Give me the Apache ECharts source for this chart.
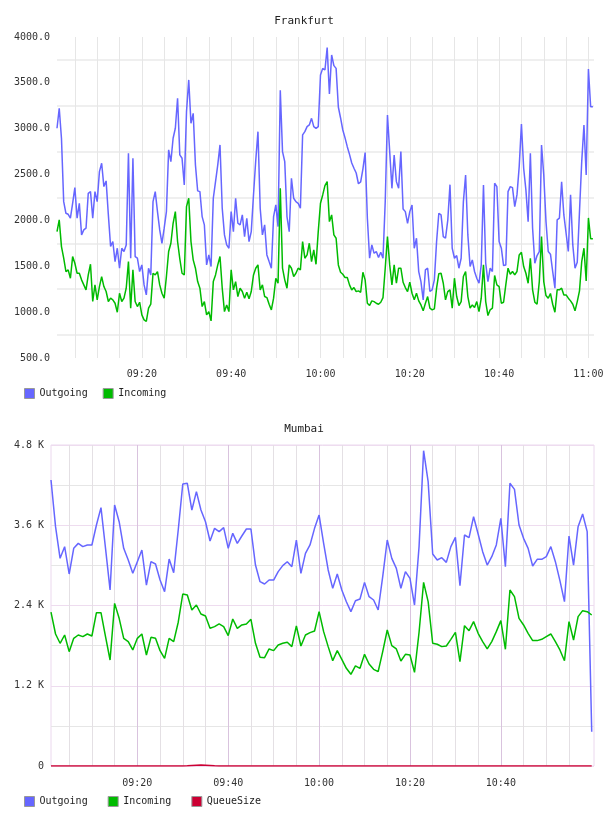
<!DOCTYPE html>
<html>
<head>
<meta charset="utf-8">
<title>Frankfurt / Mumbai</title>
<script src="https://cdn.jsdelivr.net/npm/echarts@6/dist/echarts.min.js"></script>
<style>
html, body { margin: 0; padding: 0; background: #fff; }
#chart { width: 608px; height: 816px; }
</style>
</head>
<body>
<div id="chart"></div>
<script>
// Frankfurt: one sample every 30 s from 09:01:00
const fraOutgoing = [
	3005, 3223, 2896, 2205, 2078, 2067, 2024, 2187, 2358, 2024,
	2187, 1842, 1897, 1915, 2296, 2314, 2024, 2314, 2205, 2532,
	2623, 2369, 2431, 2060, 1715, 1770, 1551, 1697, 1479, 1697,
	1661, 1733, 2732, 1588, 2678, 1606, 1588, 1442, 1515, 1297,
	1188, 1479, 1406, 2205, 2314, 2096, 1897, 1751, 1915, 2096,
	2769, 2641, 2896, 3005, 3332, 2714, 2678, 2387, 3186, 3532,
	3059, 3168, 2605, 2322, 2314, 2042, 1951, 1515, 1624, 1497,
	2242, 2423, 2605, 2823, 2133, 1842, 1733, 1697, 2096, 1878,
	2242, 1969, 1951, 2060, 1824, 2024, 1769, 1878, 2278, 2650,
	2968, 2133, 1842, 1951, 1624, 1551, 1479, 2042, 2169, 1933,
	3420, 2750, 2641, 2042, 1878, 2460, 2242, 2205, 2187, 2133,
	2932, 2968, 3023, 3041, 3113, 3023, 3004, 3023, 3586, 3658,
	3640, 3884, 3380, 3804, 3688, 3658, 3237, 3117, 2986, 2900,
	2804, 2720, 2626, 2569, 2517, 2400, 2420, 2560, 2740, 2024,
	1588, 1733, 1642, 1660, 1595, 1653, 1588, 2205, 3150, 2750,
	2350, 2714, 2423, 2350, 2750, 2125, 2096, 1969, 2096, 2169,
	1697, 1806, 1442, 1333, 1134, 1461, 1479, 1225, 1243, 1352,
	1769, 2078, 2060, 1824, 1806, 2000, 2390, 1697, 1588, 1617,
	1479, 1588, 2205, 2496, 1842, 1497, 1570, 1443, 1370, 1315,
	1515, 2387, 1533, 1333, 1479, 1443, 2405, 2369, 1770, 1697,
	1508, 1515, 2314, 2369, 2358, 2151, 2278, 2587, 3050, 2569,
	2333, 1987, 2732, 1915, 1533, 1617, 1661, 2823, 2496, 1987,
	1661, 1632, 1443, 1261, 2006, 2024, 2420, 2060, 1860, 1661,
	2280, 1733, 1479, 1544, 2096, 2641, 3041, 2496, 3650, 3240,
	3240
]
const fraIncoming = [
	1879, 2006, 1715, 1588, 1442, 1461, 1370, 1606, 1533, 1424,
	1424, 1352, 1297, 1243, 1406, 1522, 1116, 1297, 1134, 1279,
	1388, 1279, 1225, 1116, 1152, 1134, 1097, 999, 1206, 1116,
	1152, 1261, 1551, 1043, 1461, 1116, 1061, 1108, 970, 916,
	898, 1043, 1087, 1424, 1406, 1442, 1297, 1206, 1152, 1388,
	1661, 1751, 1969, 2096, 1770, 1580, 1424, 1406, 2151, 2242,
	1770, 1570, 1479, 1333, 1261, 1061, 1115, 970, 1006, 905,
	1333, 1406, 1515, 1606, 1261, 1006, 1079, 1006, 1461, 1243,
	1333, 1170, 1261, 1225, 1152, 1217, 1145, 1225, 1406, 1479,
	1515, 1243, 1297, 1170, 1159, 1086, 1025, 1152, 1370, 1315,
	2350, 1479, 1352, 1261, 1515, 1479, 1388, 1424, 1479, 1461,
	1769, 1588, 1624, 1751, 1551, 1679, 1522, 1878, 2187, 2278,
	2380, 2423, 1987, 2060, 1842, 1806, 1515, 1435, 1413, 1377,
	1377, 1297, 1243, 1268, 1224, 1232, 1217, 1435, 1352, 1097,
	1072, 1123, 1115, 1097, 1086, 1108, 1159, 1479, 1824, 1515,
	1297, 1515, 1315, 1479, 1479, 1326, 1268, 1224, 1326, 1206,
	1134, 1206, 1123, 1079, 1014, 1097, 1170, 1043, 1025, 1036,
	1261, 1420, 1424, 1315, 1134, 1224, 1243, 1043, 1370, 1170,
	1072, 1115, 1388, 1443, 1170, 1043, 1079, 1050, 1115, 1006,
	1152, 1515, 1115, 963, 1025, 1043, 1399, 1297, 1279, 1097,
	1108, 1297, 1479, 1413, 1443, 1406, 1443, 1624, 1653, 1497,
	1424, 1315, 1588, 1243, 1108, 1086, 1333, 1824, 1333, 1181,
	1152, 1203, 1086, 999, 1243, 1243, 1261, 1188, 1188, 1152,
	1123, 1086, 1014, 1115, 1232, 1551, 1697, 1340, 2027, 1800,
	1800
]

// Mumbai: one sample every minute from 09:01
const mumOutgoing = [
	4276, 3579, 3105, 3280, 2871, 3255, 3329, 3280, 3305, 3305,
	3604, 3863, 3255, 2632, 3903, 3653, 3255, 3080, 2881, 3055,
	3230, 2706, 3055, 3020, 2781, 2607, 3095, 2891, 3529, 4217,
	4227, 3828, 4102, 3828, 3653, 3364, 3554, 3504, 3564, 3255,
	3479, 3329, 3439, 3544, 3544, 3005, 2756, 2721, 2781, 2781,
	2906, 2996, 3055, 2980, 3379, 2881, 3180, 3305, 3554, 3753,
	3329, 2931, 2657, 2871, 2632, 2457, 2308, 2472, 2497, 2746,
	2532, 2482, 2333, 2831, 3379, 3105, 2956, 2657, 2906, 2806,
	2407, 3280, 4715, 4251, 3170, 3080, 3115, 3045, 3280, 3419,
	2697, 3454, 3414, 3728, 3469, 3205, 3005, 3130, 3305, 3703,
	2980, 4227, 4137, 3604, 3404, 3255, 2991, 3090, 3090, 3130,
	3280, 3055, 2771, 2457, 3439, 3005, 3579, 3768, 3504, 513
]
const mumIncoming = [
	2300, 1974, 1835, 1959, 1710, 1909, 1959, 1934, 1974, 1944,
	2293, 2293, 1934, 1585, 2432, 2208, 1909, 1860, 1735, 1909,
	1974, 1660, 1924, 1909, 1725, 1610, 1909, 1860, 2150, 2572,
	2557, 2333, 2407, 2273, 2243, 2059, 2084, 2124, 2084, 1949,
	2198, 2059, 2109, 2124, 2193, 1835, 1625, 1620, 1750, 1725,
	1810, 1835, 1850, 1785, 2094, 1795, 1959, 1994, 2019, 2308,
	2009, 1785, 1575, 1725, 1595, 1461, 1371, 1496, 1461, 1670,
	1526, 1446, 1411, 1710, 2034, 1800, 1750, 1570, 1670, 1660,
	1401, 2000, 2746, 2457, 1835, 1820, 1785, 1795, 1894, 1999,
	1560, 2099, 2024, 2159, 1984, 1860, 1750, 1860, 2009, 2174,
	1745, 2632, 2532, 2208, 2109, 1984, 1875, 1875, 1894, 1934,
	1974, 1860, 1735, 1575, 2159, 1884, 2233, 2323, 2308, 2258
]
const mumQueue = [
	0, 0, 0, 0, 0, 0, 0, 0, 0, 0,
	0, 0, 0, 0, 0, 0, 0, 0, 0, 0,
	0, 0, 0, 0, 0, 0, 0, 0, 0, 0,
	3, 8, 12, 14, 12, 8, 3, 0, 0, 0,
	0, 0, 0, 0, 0, 0, 0, 0, 0, 0,
	0, 0, 0, 0, 0, 0, 0, 0, 0, 0,
	0, 0, 0, 0, 0, 0, 0, 0, 0, 0,
	0, 0, 0, 0, 0, 0, 0, 0, 0, 0,
	0, 0, 0, 0, 0, 0, 0, 0, 0, 0,
	0, 0, 0, 0, 0, 0, 0, 0, 0, 0,
	0, 0, 0, 0, 0, 0, 0, 0, 0, 0,
	0, 0, 0, 0, 0, 0, 0, 0, 0, 0
]

const fraLegend = ['Outgoing', 'Incoming']
const mumLegend = ['Outgoing', 'Incoming', 'QueueSize']

const font = 'DejaVu Sans Mono'
const blue = '#6666ff'
const green = '#00bb00'
const red = '#cc0033'

// time slots for the category axes ('HH:MM:SS')
const pad = (n) => (n < 10 ? '0' + n : '' + n)
const buildTimes = (startSec, stepSec, count) => {
	const list = []
	for (let i = 0; i < count; i++) {
		const s = startSec + i * stepSec
		list.push(pad(Math.floor(s / 3600)) + ':' + pad(Math.floor(s / 60) % 60) + ':' + pad(s % 60))
	}
	return list
}
const fraTimes = buildTimes(9 * 3600 + 60, 15, 482)
const mumTimes = buildTimes(9 * 3600 + 60, 30, 240)

const minuteOf = (t) => parseInt(t.slice(3, 5), 10)
const isFive = (t) => t.slice(6) === '00' && minuteOf(t) % 5 === 0
const isTwenty = (t) => t.slice(6) === '00' && minuteOf(t) % 20 === 0
const beforeEleven = (t) => t < '11:00:00'

// samples sit on every 2nd slot
const toPairs = (values) => values.map((v, k) => [k * 2, v])

const lineSeries = (name, color, values, idx) => ({
	name: name,
	type: 'line',
	xAxisIndex: idx,
	yAxisIndex: idx,
	data: toPairs(values),
	symbol: 'none',
	showSymbol: false,
	lineStyle: { width: 1.5, color: color },
	itemStyle: { color: color },
	emphasis: { disabled: true },
})

const legendCommon = {
	icon: 'rect',
	itemWidth: 10,
	itemHeight: 10,
	padding: 0,
	left: 24,
	itemStyle: { borderColor: '#999', borderWidth: 1 },
	textStyle: { fontFamily: font, fontSize: 10, color: '#222' },
}

const titleStyle = { fontFamily: font, fontSize: 11, fontWeight: 'normal', color: '#222' }
const labelStyle = { fontFamily: font, fontSize: 10, color: '#333' }

var myChart = echarts.init(document.getElementById('chart'))

var option = {
	animation: false,
	backgroundColor: '#fff',
	title: [
		{ text: 'Frankfurt', left: 'center', top: 16, padding: 0, textStyle: titleStyle },
		{ text: 'Mumbai', left: 'center', top: 424, padding: 0, textStyle: titleStyle },
	],
	legend: [
		Object.assign({}, legendCommon, { data: fraLegend, top: 388, itemGap: 15 }),
		Object.assign({}, legendCommon, { data: mumLegend, top: 796, itemGap: 20 }),
	],
	grid: [
		{ left: 57, right: 14, top: 37, height: 321, outerBoundsMode: 'none' },
		{
			left: 51,
			right: 14,
			top: 445,
			height: 321,
			show: true,
			borderColor: '#ebd8ee',
			borderWidth: 1,
			backgroundColor: 'transparent',
			outerBoundsMode: 'none',
		},
	],
	xAxis: [
		{
			type: 'category',
			gridIndex: 0,
			data: fraTimes,
			boundaryGap: false,
			axisLine: { show: false },
			axisTick: { show: false },
			axisLabel: Object.assign({}, labelStyle, {
				margin: 11,
				interval: (i, t) => isTwenty(t),
				formatter: (t) => t.slice(0, 5),
			}),
			splitLine: {
				show: true,
				interval: (i, t) => isFive(t),
				lineStyle: { color: '#e6e6e6', width: 1 },
			},
		},
		{
			type: 'category',
			gridIndex: 1,
			data: mumTimes,
			boundaryGap: false,
			axisLine: { show: false },
			axisTick: { show: false },
			axisLabel: Object.assign({}, labelStyle, {
				margin: 12,
				interval: (i, t) => isTwenty(t) && beforeEleven(t),
				formatter: (t) => t.slice(0, 5),
			}),
			splitLine: {
				show: true,
				interval: (i, t) => isFive(t) && beforeEleven(t),
				// every 4th line (20 min) is the tinted one
				lineStyle: { color: ['#e4e0e4', '#e4e0e4', '#e4e0e4', '#d9c3de'], width: 1 },
			},
		},
	],
	yAxis: [
		{
			type: 'value',
			gridIndex: 0,
			min: 500,
			max: 4000,
			interval: 250,
			axisLine: { show: false },
			axisTick: { show: false },
			axisLabel: Object.assign({}, labelStyle, {
				margin: 7,
				showMinLabel: true,
				showMaxLabel: true,
				formatter: (v) => (v % 500 === 0 ? v.toFixed(1) : ''),
			}),
			// lines only half way between the labels
			splitLine: { show: true, lineStyle: { color: ['rgba(0,0,0,0)', '#efefef'], width: 2 } },
		},
		{
			type: 'value',
			gridIndex: 1,
			min: 0,
			max: 4800,
			interval: 600,
			axisLine: { show: false },
			axisTick: { show: false },
			axisLabel: Object.assign({}, labelStyle, {
				margin: 7,
				showMinLabel: true,
				showMaxLabel: true,
				formatter: (v) => (v === 0 ? '0' : v % 1200 === 0 ? (v / 1000).toFixed(1) + ' K' : ''),
			}),
			splitLine: { show: true, lineStyle: { color: ['#eedcef', '#e6e6e6'], width: 1 } },
		},
	],
	series: [
		lineSeries('Outgoing', blue, fraOutgoing, 0),
		lineSeries('Incoming', green, fraIncoming, 0),
		lineSeries('Outgoing', blue, mumOutgoing, 1),
		lineSeries('Incoming', green, mumIncoming, 1),
		lineSeries('QueueSize', red, mumQueue, 1),
	],
}

option && myChart.setOption(option)
</script>
</body>
</html>
